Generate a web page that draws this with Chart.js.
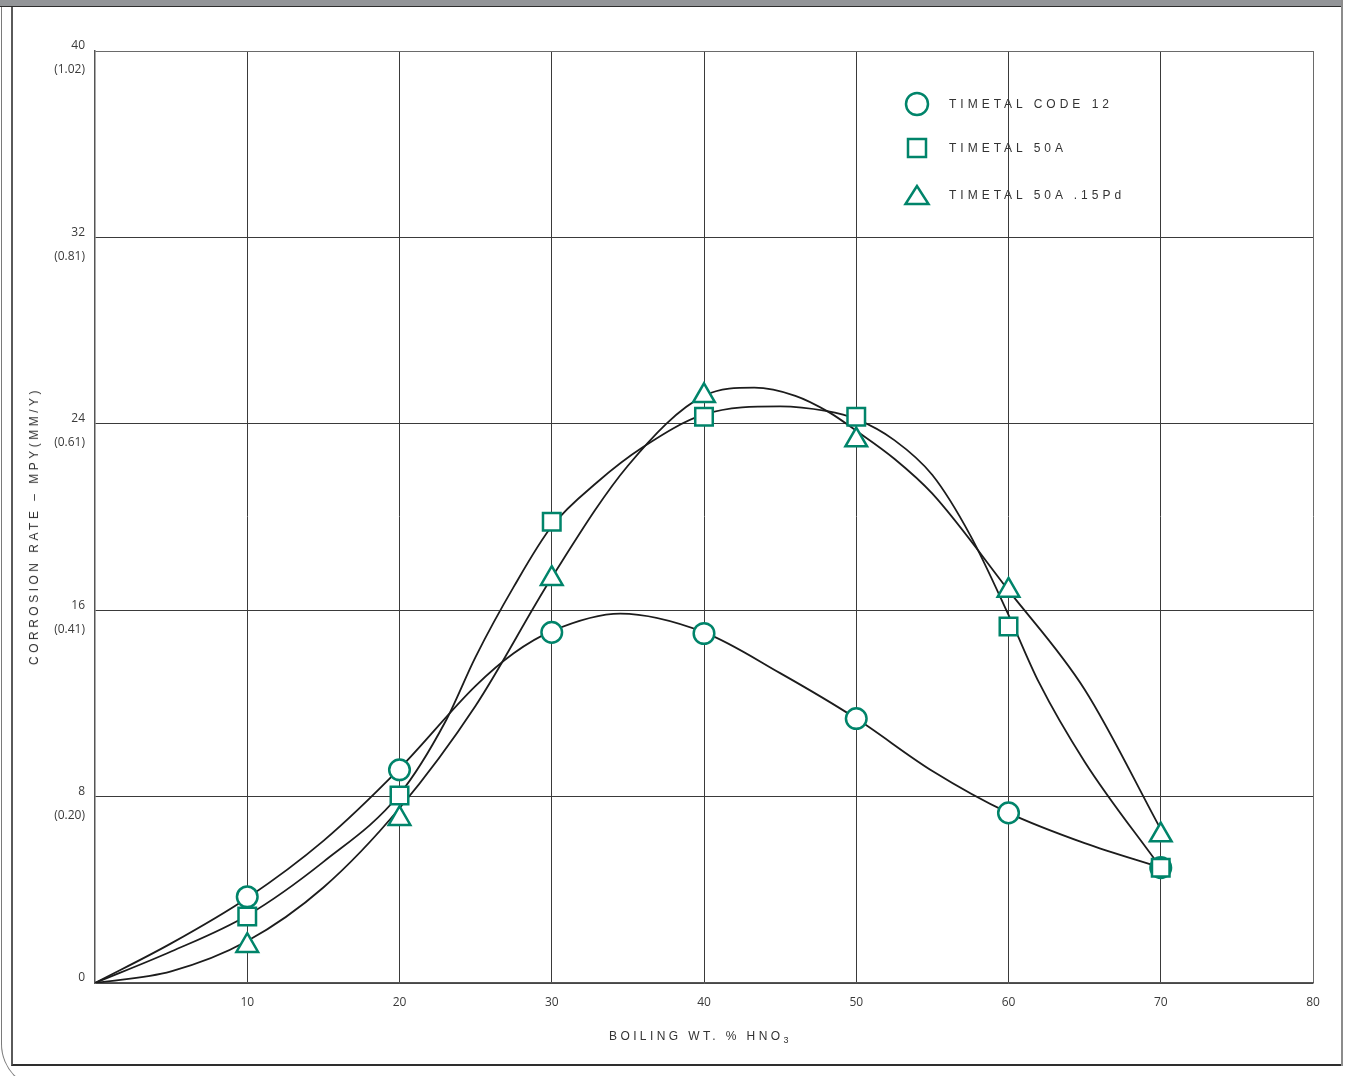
<!DOCTYPE html>
<html>
<head>
<meta charset="utf-8">
<title>Corrosion rate in boiling nitric acid</title>
<script src="https://cdn.jsdelivr.net/npm/chart.js"></script>
<style>
  html, body { margin: 0; padding: 0; background: #fff; }
  body { width: 1354px; height: 1076px; position: relative; overflow: hidden;
         font-family: "Liberation Sans", Arial, sans-serif; }
  .band  { position: absolute; left: 0; top: 0; width: 1342px; height: 6px;
           background: #939598; border-bottom: 1px solid #2e2e2e; }
  .outer { position: absolute; left: 1px; top: 7px; width: 90px; height: 1082px;
           border-left: 1px solid #7a7a7a; border-bottom: 1px solid #7a7a7a;
           border-bottom-left-radius: 46px; }
  .frame { position: absolute; left: 11px; top: 7px; width: 1329px; height: 1057px;
           border-left: 2px solid #5a5a5a; border-bottom: 2px solid #2e2e2e; }
  .rline { position: absolute; left: 1341px; top: 0; width: 2px; height: 1066px; background: #8c8c8c; }
  #chart { position: absolute; left: 0; top: 0; }
  .txt   { position: absolute; color: #333; font-size: 12px; white-space: nowrap; line-height: 14px; }
  .ytitle { left: 34px; top: 526px; letter-spacing: 3.5px;
            transform: translate(-50%, -50%) rotate(-90deg); }
  .xtitle { left: 609px; top: 1029px; letter-spacing: 3.4px; }
  .xtitle sub { font-size: 9px; vertical-align: -3px; line-height: 0; }
  .leg   { left: 949px; letter-spacing: 4px; color: #333; }
  .legicon { position: absolute; left: 0; top: 0; }
</style>
</head>
<body>
<div class="band"></div>
<div class="outer"></div>
<div class="frame"></div>
<div class="rline"></div>
<canvas id="chart" width="1354" height="1076"></canvas>

<svg class="legicon" width="1354" height="240">
  <g fill="#fff" stroke="#00846a" stroke-width="2.5">
    <circle cx="917" cy="104" r="11"/>
    <rect x="908" y="139" width="18" height="18"/>
    <polygon points="917,186 905.5,204 928.5,204"/>
  </g>
</svg>
<div class="txt leg" style="top:97px">TIMETAL CODE 12</div>
<div class="txt leg" style="top:141px">TIMETAL 50A</div>
<div class="txt leg" style="top:188px">TIMETAL 50A .15Pd</div>

<div class="txt ytitle">CORROSION RATE – MPY(MM/Y)</div>
<div class="txt xtitle">BOILING WT. % HNO<sub>3</sub></div>

<script>
// Boiling HNO3 concentration (wt. %) at which each alloy was tested
const hno3Pct = [10, 20, 30, 40, 50, 60, 70];

// Measured corrosion rates, mpy
const code12Rate  = [3.7, 9.15, 15.05, 15.0, 11.35, 7.3, 4.95];
const ti50ARate   = [2.85, 8.05, 19.8, 24.3, 24.3, 15.3, 4.95];
const ti50APdRate = [1.6, 7.05, 17.35, 25.2, 23.3, 16.85, 6.35];

// Hand-faired trend curves (wt. % / mpy pairs)
const code12CurveX = [0, 5, 10, 15, 20, 25, 27.5, 30, 34.5, 40, 45, 50, 55, 60, 65, 70];
const code12CurveY = [0, 1.7, 3.65, 6.1, 9.2, 12.75, 14.15, 15.1, 15.85, 15.05, 13.3, 11.35, 9.1, 7.3, 6.0, 4.95];

const ti50ACurveX = [0, 5, 10, 15, 20, 23, 25, 27.5, 30, 33, 36, 40, 45, 48, 50, 52.5, 55, 57.5, 60, 62, 65, 70];
const ti50ACurveY = [0, 1.35, 2.9, 5.2, 8.1, 11.2, 14.0, 17.0, 19.6, 21.5, 23.0, 24.4, 24.75, 24.55, 24.2, 23.3, 21.8, 19.2, 15.8, 12.9, 9.5, 4.95];

const ti50APdCurveX = [0, 5, 10, 15, 20, 25, 30, 35, 40, 43.3, 46, 48.2, 50, 52.5, 55, 60, 65, 70];
const ti50APdCurveY = [0, 0.5, 1.8, 4.1, 7.5, 11.9, 17.4, 22.2, 25.2, 25.55, 25.2, 24.5, 23.7, 22.5, 21.0, 16.85, 12.6, 6.6];

// Axis ticks
const xTicks = [10, 20, 30, 40, 50, 60, 70, 80];
const yTicks = [0, 8, 16, 24, 32, 40];
const yTicksMetric = ['', '(0.20)', '(0.41)', '(0.61)', '(0.81)', '(1.02)'];

const TEAL = '#00846a';
const pts = (xs, ys) => xs.map((x, i) => ({ x: x, y: ys[i] }));

function marker(label, ys, style, radius, order) {
  return {
    label: label, data: pts(hno3Pct, ys), showLine: false,
    pointStyle: style, pointRadius: radius, pointHoverRadius: radius,
    pointBorderWidth: 2.5, pointBorderColor: TEAL, pointBackgroundColor: '#ffffff',
    order: order
  };
}
function curve(label, xs, ys, order) {
  return {
    label: label, data: pts(xs, ys), borderColor: '#1c1c1c', borderWidth: 1.8,
    pointRadius: 0, pointHoverRadius: 0, fill: false,
    cubicInterpolationMode: 'monotone', order: order
  };
}

// Tick labels: value on top, metric equivalent underneath
const tickLabels = {
  id: 'tickLabels',
  afterDraw(chart) {
    const { ctx, chartArea, scales } = chart;
    ctx.save();
    ctx.fillStyle = '#3a3a3a';
    ctx.font = '12px "Open Sans", "DejaVu Sans", sans-serif';
    ctx.textBaseline = 'middle';
    ctx.textAlign = 'right';
    yTicks.forEach((v, i) => {
      const py = scales.y.getPixelForValue(v);
      ctx.fillText(String(v), chartArea.left - 10, py - 5);
      if (yTicksMetric[i]) ctx.fillText(yTicksMetric[i], chartArea.left - 10, py + 19);
    });
    ctx.textAlign = 'center';
    xTicks.forEach(v => {
      ctx.fillText(String(v), scales.x.getPixelForValue(v), chartArea.bottom + 20);
    });
    ctx.restore();
  }
};

const gridColor = (edge) => (ctx) => (ctx.tick && ctx.tick.value === edge ? '#6a6a6a' : '#3a3a3a');

new Chart(document.getElementById('chart'), {
  type: 'line',
  data: {
    datasets: [
      marker('TIMETAL 50A .15Pd', ti50APdRate, 'triangle', 12.5, 1),
      marker('TIMETAL 50A', ti50ARate, 'rect', 12.4, 2),
      marker('TIMETAL CODE 12', code12Rate, 'circle', 10.3, 3),
      curve('TIMETAL CODE 12 trend', code12CurveX, code12CurveY, 4),
      curve('TIMETAL 50A trend', ti50ACurveX, ti50ACurveY, 5),
      curve('TIMETAL 50A .15Pd trend', ti50APdCurveX, ti50APdCurveY, 6)
    ]
  },
  options: {
    responsive: false,
    animation: false,
    devicePixelRatio: 1,
    events: [],
    layout: { padding: { left: 95, top: 51, right: 41, bottom: 93 } },
    plugins: { legend: { display: false }, tooltip: { enabled: false } },
    scales: {
      x: {
        type: 'linear', min: 0, max: 80,
        afterBuildTicks: s => { s.ticks = xTicks.map(v => ({ value: v })); },
        ticks: { display: false },
        grid: { color: gridColor(80), lineWidth: 1, drawTicks: false },
        border: { display: true, color: '#555', width: 1.5 }
      },
      y: {
        type: 'linear', min: 0, max: 40,
        afterBuildTicks: s => { s.ticks = yTicks.map(v => ({ value: v })); },
        ticks: { display: false },
        grid: { color: gridColor(40), lineWidth: 1, drawTicks: false },
        border: { display: true, color: '#555', width: 1.5 }
      }
    }
  },
  plugins: [tickLabels]
});
</script>
</body>
</html>
